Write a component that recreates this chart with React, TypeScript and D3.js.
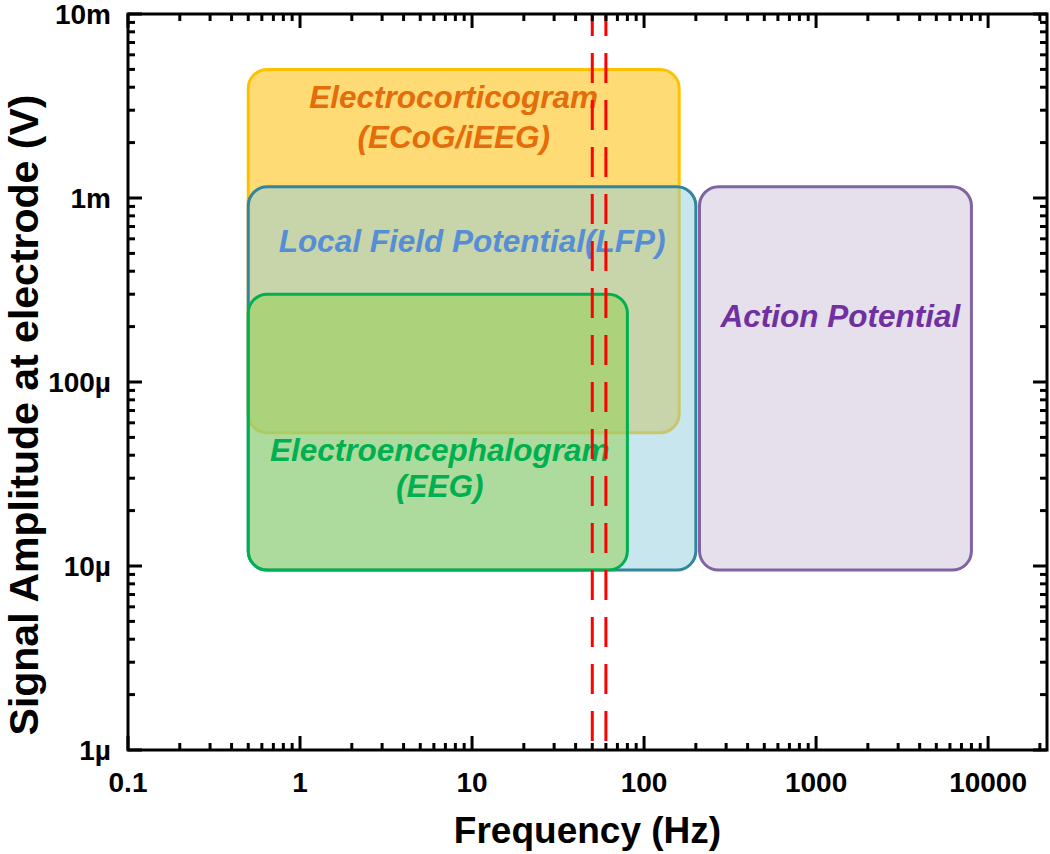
import React from "react";
import * as d3 from "d3";

// ---- data ----
const xTickValues = [0.1, 1, 10, 100, 1000, 10000];
const xTickLabels = ["0.1", "1", "10", "100", "1000", "10000"];
const yTickValues = [1e-6, 1e-5, 1e-4, 1e-3, 1e-2];
const yTickLabels = ["1µ", "10µ", "100µ", "1m", "10m"];

const regionNames = ["ECoG", "LFP", "EEG", "AP"];
const regionFreqLo = [0.5, 0.5, 0.5, 210];
const regionFreqHi = [160, 200, 80, 8000];
const regionAmpLo = [5.3e-5, 9.5e-6, 9.5e-6, 9.5e-6];
const regionAmpHi = [5e-3, 1.15e-3, 3e-4, 1.15e-3];
const regionLabels = [
  ["Electrocorticogram", "(ECoG/iEEG)"],
  ["Local Field Potential(LFP)"],
  ["Electroencephalogram", "(EEG)"],
  ["Action Potential"],
];
const labelAmp = [3.1e-3, 5.1e-4, 3.7e-5, 2e-4];

const mainsFreqs = [50, 60];

// ---- styles ----
const fills = ["rgb(255,219,118)", "rgba(146,205,220,0.5)", "rgba(146,208,80,0.5)", "#E5E0EC"];
const strokes = ["#FFC000", "#31859C", "#00B050", "#8064A2"];
const textColors = ["#E46C0A", "#558ED5", "#00B050", "#7030A0"];
const labelDx = [-10, 0, 2, 5];
const lineGap = [40, 0, 36, 0];

export default function App() {
  const W = 1050;
  const H = 854;
  const x = d3.scaleLog().domain([0.1, 22000]).range([128, 1047]);
  const y = d3.scaleLog().domain([1e-6, 1e-2]).range([750, 14]);
  const [x0, x1] = x.range();
  const [y0, y1] = y.range();

  const xMinor: number[] = [];
  for (let e = -1; e <= 4; e++) {
    for (let m = 2; m <= 9; m++) {
      const v = m * Math.pow(10, e);
      if (v < 22000) xMinor.push(v);
    }
  }
  const yMinor: number[] = [];
  for (let e = -6; e <= -3; e++) {
    for (let m = 2; m <= 9; m++) yMinor.push(m * Math.pow(10, e));
  }

  const font = "'Liberation Sans', Arial, Helvetica, sans-serif";
  const major = 14;
  const minor = 7;
  const lw = 3;

  return (
    <svg width={W} height={H} style={{ display: "block", position: "absolute", left: 0, top: 0 }} fontFamily={font}>
      <rect x={0} y={0} width={W} height={H} fill="#fff" />
      {/* regions */}
      {regionNames.map((n, i) => {
        const rx0 = x(regionFreqLo[i]);
        const rx1 = x(regionFreqHi[i]);
        const ry0 = y(regionAmpHi[i]);
        const ry1 = y(regionAmpLo[i]);
        return (
          <rect
            key={n}
            x={rx0}
            y={ry0}
            width={rx1 - rx0}
            height={ry1 - ry0}
            rx={19}
            ry={19}
            fill={fills[i]}
            stroke={strokes[i]}
            strokeWidth={3}
          />
        );
      })}
      {/* labels */}
      {regionNames.map((n, i) => {
        const cx = (x(regionFreqLo[i]) + x(regionFreqHi[i])) / 2 + labelDx[i];
        const by = y(labelAmp[i]);
        return (
          <text
            key={"l" + n}
            x={cx}
            y={by}
            textAnchor="middle"
            fontWeight="bold"
            fontStyle="italic"
            fontSize={31.5}
            fill={textColors[i]}
          >
            {regionLabels[i].map((t, j) => (
              <tspan key={j} x={cx} dy={j === 0 ? 0 : lineGap[i]}>
                {t}
              </tspan>
            ))}
          </text>
        );
      })}
      {/* mains lines */}
      {mainsFreqs.map((f) => (
        <line
          key={f}
          x1={x(f)}
          x2={x(f)}
          y1={y1}
          y2={y0}
          stroke="#FF0000"
          strokeWidth={3}
          strokeDasharray="30,17"
          strokeDashoffset={8}
        />
      ))}
      {/* frame */}
      <rect x={x0} y={y1} width={x1 - x0} height={y0 - y1} fill="none" stroke="#000" strokeWidth={lw} />
      {/* x ticks */}
      {xTickValues.map((v) => (
        <g key={"xt" + v}>
          <line x1={x(v)} x2={x(v)} y1={y0} y2={y0 - major} stroke="#000" strokeWidth={lw} />
          <line x1={x(v)} x2={x(v)} y1={y1} y2={y1 + major} stroke="#000" strokeWidth={lw} />
        </g>
      ))}
      {xMinor.map((v) => (
        <g key={"xm" + v}>
          <line x1={x(v)} x2={x(v)} y1={y0} y2={y0 - minor} stroke="#000" strokeWidth={lw} />
          <line x1={x(v)} x2={x(v)} y1={y1} y2={y1 + minor} stroke="#000" strokeWidth={lw} />
        </g>
      ))}
      {yTickValues.map((v) => (
        <g key={"yt" + v}>
          <line x1={x0} x2={x0 + major} y1={y(v)} y2={y(v)} stroke="#000" strokeWidth={lw} />
          <line x1={x1} x2={x1 - major} y1={y(v)} y2={y(v)} stroke="#000" strokeWidth={lw} />
        </g>
      ))}
      {yMinor.map((v) => (
        <g key={"ym" + v}>
          <line x1={x0} x2={x0 + minor} y1={y(v)} y2={y(v)} stroke="#000" strokeWidth={lw} />
          <line x1={x1} x2={x1 - minor} y1={y(v)} y2={y(v)} stroke="#000" strokeWidth={lw} />
        </g>
      ))}
      {/* tick labels */}
      {xTickValues.map((v, i) => (
        <text key={"xl" + v} x={x(v)} y={792} textAnchor="middle" fontWeight="bold" fontSize={28} fill="#000">
          {xTickLabels[i]}
        </text>
      ))}
      {yTickValues.map((v, i) => (
        <text
          key={"yl" + v}
          x={111}
          y={y(v)}
          dy="0.35em"
          textAnchor="end"
          fontWeight="bold"
          fontSize={28}
          fill="#000"
        >
          {yTickLabels[i]}
        </text>
      ))}
      {/* axis titles */}
      <text x={(x0 + x1) / 2} y={843} textAnchor="middle" fontWeight="bold" fontSize={37} fill="#000">
        Frequency (Hz)
      </text>
      <text
        transform={`translate(38, 415) rotate(-90)`}
        textAnchor="middle"
        fontWeight="bold"
        fontSize={41}
        fill="#000"
      >
        Signal Amplitude at electrode (V)
      </text>
    </svg>
  );
}
